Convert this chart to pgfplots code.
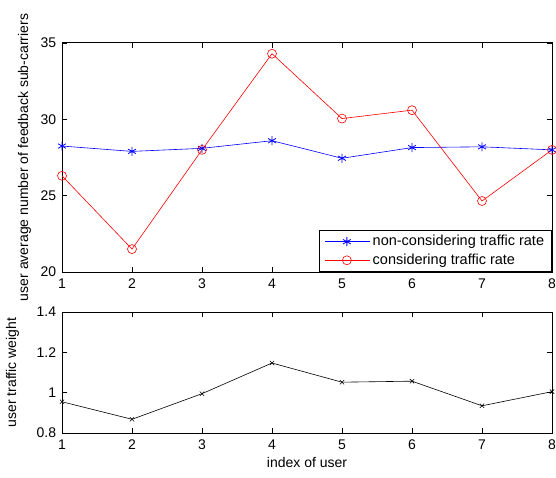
\documentclass[border=0pt]{standalone}
\usepackage{pgfplots}
\pgfplotsset{compat=1.18}
\usepackage{fontspec}
\setmainfont{Liberation Sans}

\pgfplotstableread{
x  noncons cons
1  28.25   26.3
2  27.9    21.5
3  28.1    28.0
4  28.6    34.3
5  27.45   30.05
6  28.15   30.6
7  28.2    24.65
8  28.0    28.0
}\feedback

\pgfplotstableread{
x  w
1  0.955
2  0.868
3  0.995
4  1.147
5  1.052
6  1.057
7  0.935
8  1.005
}\weight

\begin{document}
\fontsize{14}{16}\selectfont
\begin{tikzpicture}
\useasboundingbox (0pt,0pt) rectangle (556pt,477pt);
\pgfplotsset{
  myaxis/.style={
    scale only axis,
    width=490pt,
    xmin=1, xmax=8,
    xtick={1,...,8},
    tick align=inside,
    major tick length=5pt,
    axis line style={line width=1pt},
    every tick/.style={black, line width=0.6pt},
    font=\fontsize{14}{16}\selectfont,
    /pgf/number format/assume math mode=true,
    /pgf/number format/fixed,
    xticklabel style={yshift=-2pt},
    yticklabel style={xshift=-1pt},
  }
}
\begin{axis}[
  myaxis,
  at={(62pt,205pt)}, anchor=south west,
  height=229pt,
  ymin=20, ymax=35,
  ytick={20,25,30,35},
  ylabel={user average number of feedback sub-carriers},
  ylabel style={at={(axis description cs:0,0.5)}, anchor=south, yshift=26pt},
  legend style={at={(rel axis cs:1,0)}, anchor=south east,
    draw=black, line width=0.8pt, inner xsep=5pt, inner ysep=3pt,
    font=\fontsize{14.5}{16}\selectfont,
    row sep=2pt, cells={anchor=west},
    nodes={inner xsep=2.5pt, inner ysep=2pt}},
  legend cell align=left,
  legend image code/.code={
    \draw[mark repeat=2, mark phase=2, #1, line width=0.6pt]
      plot coordinates {(0pt,0pt) (22pt,0pt) (45pt,0pt)};},
]
\addplot[blue, line width=0.6pt, mark=asterisk, mark size=4.5pt,
  mark options={line width=0.8pt}] table[x=x, y=noncons] {\feedback};
\addlegendentry{non-considering traffic rate}
\addplot[red, line width=0.6pt, mark=o, mark size=4.5pt,
  mark options={line width=0.6pt}] table[x=x, y=cons] {\feedback};
\addlegendentry{considering traffic rate}
\end{axis}

\begin{axis}[
  myaxis,
  at={(62pt,44pt)}, anchor=south west,
  height=121pt,
  ymin=0.8, ymax=1.4,
  ytick={0.8,1,1.2,1.4},
  ylabel={user traffic weight},
  ylabel style={at={(axis description cs:0,0.5)}, anchor=south, yshift=38pt},
  xlabel={index of user},
  xlabel style={yshift=2pt},
]
\addplot[black, line width=0.6pt, mark=x, mark size=3pt,
  mark options={line width=0.6pt}] table[x=x, y=w] {\weight};
\end{axis}
\end{tikzpicture}
\end{document}
